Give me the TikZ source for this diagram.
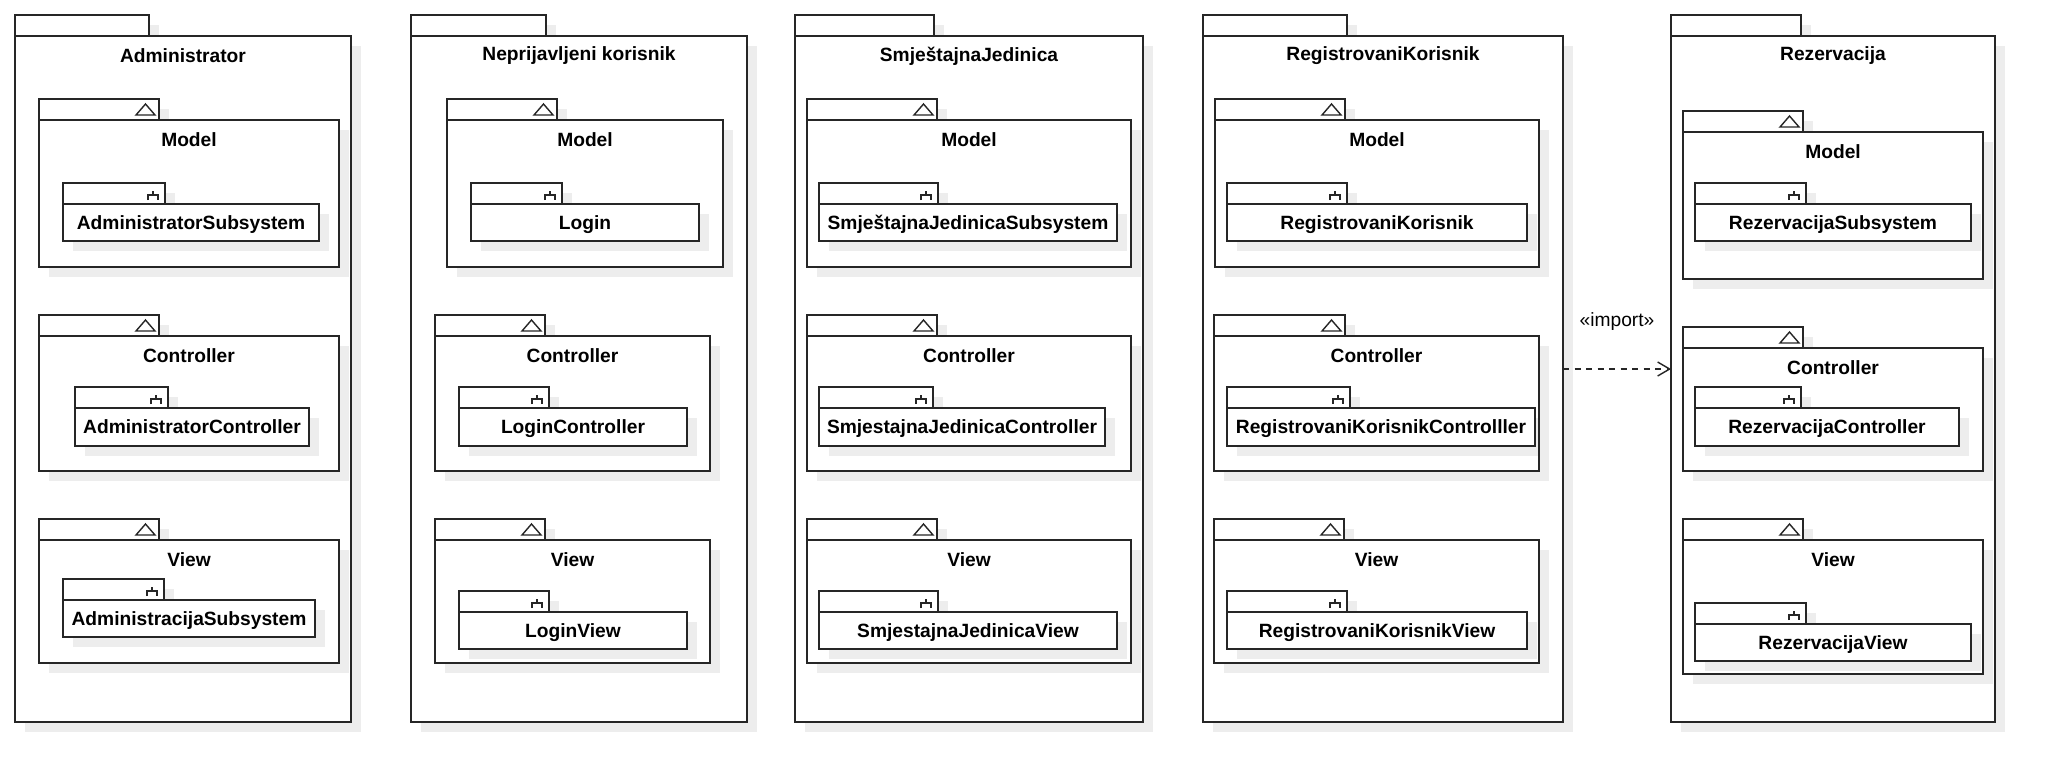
\documentclass[tikz,border=0pt]{standalone}
\usepackage{fontspec}
\setmainfont{Liberation Sans}
\usetikzlibrary{arrows.meta}

% package: name, left, right, tab right, tab top, bottom, title, icon
\newcommand{\umlpkg}[8]{%
    \fill[pkgshadow] (#2+10,#5+10) rectangle (#4+10,#5+31);
    \fill[pkgshadow] (#2+10,#5+31) rectangle (#3+10,#6+10);
    \draw[pkgline, fill=white] (#2,#5) rectangle (#4,#5+21);
    \node[pkgbody, minimum width={(#3-#2)*0.5pt}, minimum height={(#6-#5-21)*0.5pt}] (#1) at (#2,#5+21) {};
    \node[pkgtitle, yshift=-10pt] (#1-title) at (#1.north) {#7};
    #8{#4}{#5}%
}
% subsystem: name, left, right, tab right, tab top, bottom, label
\newcommand{\umlsub}[7]{%
    \fill[pkgshadow] (#2+10,#5+10) rectangle (#4+10,#5+31);
    \fill[pkgshadow] (#2+10,#5+31) rectangle (#3+10,#6+10);
    \draw[pkgline, fill=white] (#2,#5) rectangle (#4,#5+21);
    \node[pkgbody, pkgtitle, text depth=0pt, minimum width={(#3-#2)*0.5pt}, minimum height={(#6-#5-21)*0.5pt}] (#1) at (#2,#5+21) {#7};
    \forkicon{#4}{#5}%
}
\newcommand{\triicon}[2]{\draw[pkgline] (#1-23,#2+16) -- (#1-4,#2+16) -- (#1-13.5,#2+5) -- cycle;}
\newcommand{\forkicon}[2]{\draw[pkgline] (#1-12,#2+8) -- (#1-12,#2+12) (#1-17,#2+17) -- (#1-17,#2+12) -- (#1-7,#2+12) -- (#1-7,#2+17);}
\newcommand{\noicon}[2]{}

\begin{document}
\begin{tikzpicture}[x=0.5pt, y=-0.5pt,
    pkgline/.style={line width=0.7pt, draw=black!85},
    pkgshadow/.style={fill=black!7},
    pkgbody/.style={pkgline, fill=white, rectangle, anchor=north west, inner sep=0pt, outer sep=0pt},
    pkgtitle/.style={font=\fontsize{9.6}{11}\selectfont\bfseries, inner sep=0pt},
    importarrow/.style={line width=0.7pt, draw=black!85, dash pattern=on 3pt off 2.75pt, -{Straight Barb[length=6pt, width=7pt]}}]
    \fill[white] (0,0) rectangle (2055,783);
    \useasboundingbox (0,0) rectangle (2055,783);

    % Administrator
    \umlpkg{adm}{15}{351}{149}{15}{722}{Administrator}{\noicon}
    \umlpkg{admModel}{39}{339}{159}{99}{267}{Model}{\triicon}
    \umlsub{admModelSub}{63}{319}{165}{183}{241}{AdministratorSubsystem}
    \umlpkg{admCtrl}{39}{339}{159}{315}{471}{Controller}{\triicon}
    \umlsub{admCtrlSub}{75}{309}{168}{387}{446}{AdministratorController}
    \umlpkg{admView}{39}{339}{159}{519}{663}{View}{\triicon}
    \umlsub{admViewSub}{63}{315}{164}{579}{637}{AdministracijaSubsystem}

    % Neprijavljeni korisnik
    \umlpkg{nep}{411}{747}{546}{15}{722}{Neprijavljeni korisnik}{\noicon}
    \umlpkg{nepModel}{447}{723}{557}{99}{267}{Model}{\triicon}
    \umlsub{nepModelSub}{471}{699}{562}{183}{241}{Login}
    \umlpkg{nepCtrl}{435}{710}{545}{315}{471}{Controller}{\triicon}
    \umlsub{nepCtrlSub}{459}{687}{549}{387}{446}{LoginController}
    \umlpkg{nepView}{435}{710}{545}{519}{663}{View}{\triicon}
    \umlsub{nepViewSub}{459}{687}{549}{591}{649}{LoginView}

    % SmjestajnaJedinica
    \umlpkg{smj}{795}{1143}{934}{15}{722}{SmještajnaJedinica}{\noicon}
    \umlpkg{smjModel}{807}{1131}{937}{99}{267}{Model}{\triicon}
    \umlsub{smjModelSub}{819}{1117}{938}{183}{241}{SmještajnaJedinicaSubsystem}
    \umlpkg{smjCtrl}{807}{1131}{937}{315}{471}{Controller}{\triicon}
    \umlsub{smjCtrlSub}{819}{1105}{933}{387}{446}{SmjestajnaJedinicaController}
    \umlpkg{smjView}{807}{1131}{937}{519}{663}{View}{\triicon}
    \umlsub{smjViewSub}{819}{1117}{938}{591}{649}{SmjestajnaJedinicaView}

    % RegistrovaniKorisnik
    \umlpkg{reg}{1203}{1563}{1347}{15}{722}{RegistrovaniKorisnik}{\noicon}
    \umlpkg{regModel}{1215}{1539}{1345}{99}{267}{Model}{\triicon}
    \umlsub{regModelSub}{1227}{1527}{1347}{183}{241}{RegistrovaniKorisnik}
    \umlpkg{regCtrl}{1214}{1539}{1345}{315}{471}{Controller}{\triicon}
    \umlsub{regCtrlSub}{1227}{1535}{1350}{387}{446}{RegistrovaniKorisnikControlller}
    \draw[pkgline] (regCtrl.north west) rectangle (regCtrl.south east); % border over the shadow
    \umlpkg{regView}{1214}{1539}{1344}{519}{663}{View}{\triicon}
    \umlsub{regViewSub}{1227}{1527}{1347}{591}{649}{RegistrovaniKorisnikView}

    % Rezervacija
    \umlpkg{rez}{1671}{1995}{1801}{15}{722}{Rezervacija}{\noicon}
    \umlpkg{rezModel}{1683}{1983}{1803}{111}{279}{Model}{\triicon}
    \umlsub{rezModelSub}{1695}{1971}{1806}{183}{241}{RezervacijaSubsystem}
    \umlpkg{rezCtrl}{1683}{1983}{1803}{327}{471}{Controller}{\triicon}
    \umlsub{rezCtrlSub}{1695}{1959}{1801}{387}{446}{RezervacijaController}
    \umlpkg{rezView}{1683}{1983}{1803}{519}{674}{View}{\triicon}
    \umlsub{rezViewSub}{1695}{1971}{1806}{603}{661}{RezervacijaView}

    % import dependency
    \draw[importarrow] ([yshift=5pt]reg.east) -- ([yshift=5pt]rez.west)
        node[midway, yshift=23.5pt, font=\fontsize{9.6}{11}\selectfont] (imp) {«import»};
\end{tikzpicture}
\end{document}
